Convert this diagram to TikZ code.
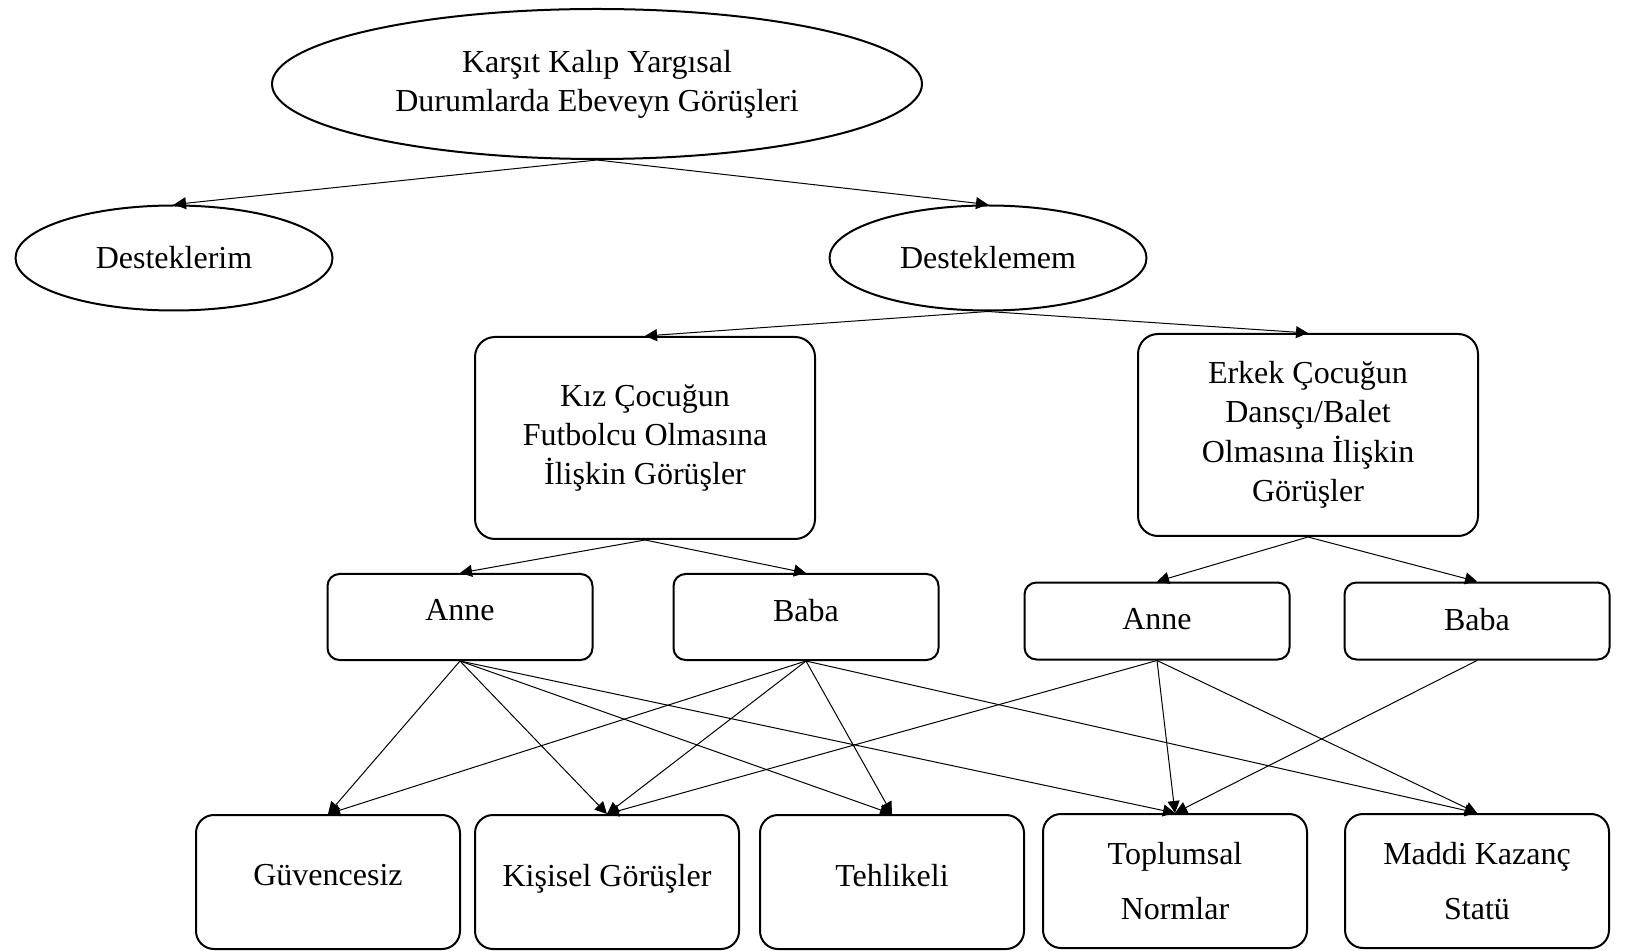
\documentclass[tikz,border=0pt]{standalone}
\usepackage{fontspec}
\setmainfont{Liberation Serif}
\usetikzlibrary{shapes.geometric,arrows.meta}

\tikzset{
  oval/.style={ellipse, draw, line width=1pt, inner sep=0pt, align=center},
  bigbox/.style={draw, line width=1pt, rounded corners=10pt, minimum width=170pt, minimum height=101pt, align=center, font=\fontsize{16}{19.7}\selectfont},
  parent/.style={draw, line width=1pt, rounded corners=6pt, minimum width=132.5pt, align=center},
  theme/.style={draw, line width=1pt, rounded corners=9pt, minimum width=132pt, minimum height=67pt, align=center, font=\fontsize{16}{27.5}\selectfont},
  lifted/.style={text depth=#1},
  link/.style={line width=0.5pt, -{Triangle[length=6pt,width=6pt]}}
}

\begin{document}
\begin{tikzpicture}[x=0.5pt, y=-0.5pt, font=\fontsize{16}{19.4}\selectfont]
  \useasboundingbox (0,0) rectangle (1627,951);

  % ovals
  \node[oval, minimum width=325pt, minimum height=75pt] (top) at (597,84) {Karşıt Kalıp Yargısal\\Durumlarda Ebeveyn Görüşleri};
  \node[oval, minimum width=158.5pt, minimum height=52.5pt] (dl) at (174,258) {Desteklerim};
  \node[oval, minimum width=158.5pt, minimum height=52.5pt] (dm) at (988,258) {Desteklemem};

  % views
  \node[bigbox] (kiz) at (645,438) {Kız Çocuğun\\Futbolcu Olmasına\\İlişkin Görüşler};
  \node[bigbox] (erk) at (1308,435) {Erkek Çocuğun\\Dansçı/Balet\\Olmasına İlişkin\\Görüşler};

  % parents
  \node[parent, minimum height=43pt, lifted=7pt] (ka) at (460,617) {Anne};
  \node[parent, minimum height=43pt, lifted=7pt] (kb) at (806,617) {Baba};
  \node[parent, minimum height=38.5pt, lifted=2pt] (ea) at (1157,621) {Anne};
  \node[parent, minimum height=38.5pt, lifted=2pt] (eb) at (1477,621) {Baba};

  % themes
  \node[theme, lifted=7pt] (guv) at (328,882) {Güvencesiz};
  \node[theme, lifted=7pt] (kis) at (607,882) {Kişisel Görüşler};
  \node[theme, lifted=7pt] (teh) at (892,882) {Tehlikeli};
  \node[theme] (top2) at (1175,881) {Toplumsal\\Normlar};
  \node[theme] (mad) at (1477,881) {Maddi Kazanç\\Statü};

  \draw[link] (top.south) -- (dl.north);
  \draw[link] (top.south) -- (dm.north);
  \draw[link] (dm.south) -- (kiz.north);
  \draw[link] (dm.south) -- (erk.north);
  \draw[link] (kiz.south) -- (ka.north);
  \draw[link] (kiz.south) -- (kb.north);
  \draw[link] (erk.south) -- (ea.north);
  \draw[link] (erk.south) -- (eb.north);

  \foreach \t in {guv,kis,teh,top2}
    \draw[link] (ka.south) -- (\t.north);
  \foreach \t in {guv,kis,teh,mad}
    \draw[link] (kb.south) -- (\t.north);
  \foreach \t in {kis,top2,mad}
    \draw[link] (ea.south) -- (\t.north);
  \draw[link] (eb.south) -- (top2.north);
\end{tikzpicture}
\end{document}
